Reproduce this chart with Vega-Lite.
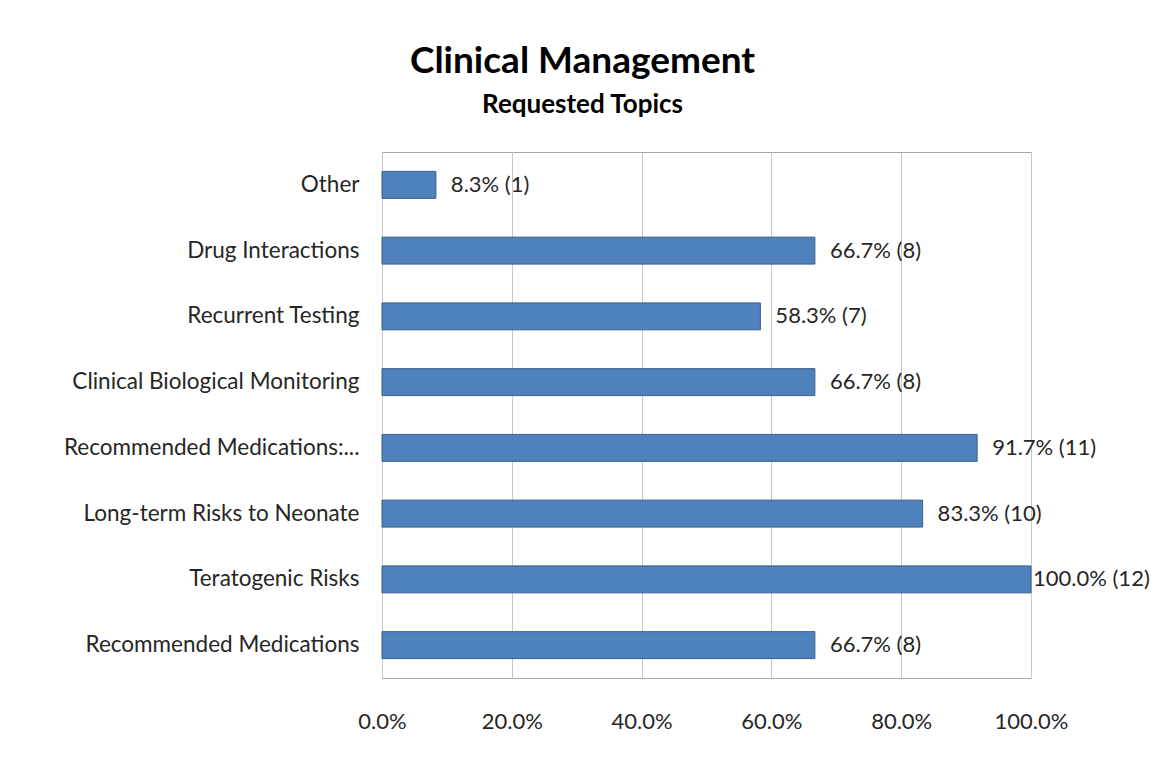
{
  "$schema": "https://vega.github.io/schema/vega-lite/v6.json",
  "autosize": {"type": "none"},
  "padding": {"left": 382, "top": 152, "right": 120, "bottom": 91},
  "width": 649,
  "height": 526,
  "background": "#ffffff",
  "title": {
    "text": "Clinical Management",
    "subtitle": "Requested Topics",
    "anchor": "middle",
    "dx": -124,
    "offset": 33,
    "font": "Lato",
    "fontSize": 37,
    "fontWeight": "bold",
    "color": "#000000",
    "subtitleFont": "Lato",
    "subtitleFontSize": 26,
    "subtitleFontWeight": "bold",
    "subtitleColor": "#000000",
    "subtitlePadding": 11
  },
  "config": {
    "view": {"stroke": "#a6a6a6", "strokeWidth": 1},
    "font": "Lato"
  },
  "data": {
    "values": [
      {"topic": "Other", "pct": 0.083, "n": 1, "label": "8.3% (1)"},
      {"topic": "Drug Interactions", "pct": 0.667, "n": 8, "label": "66.7% (8)"},
      {"topic": "Recurrent Testing", "pct": 0.583, "n": 7, "label": "58.3% (7)"},
      {"topic": "Clinical Biological Monitoring", "pct": 0.667, "n": 8, "label": "66.7% (8)"},
      {"topic": "Recommended Medications:...", "pct": 0.917, "n": 11, "label": "91.7% (11)"},
      {"topic": "Long-term Risks to Neonate", "pct": 0.833, "n": 10, "label": "83.3% (10)"},
      {"topic": "Teratogenic Risks", "pct": 1.0, "n": 12, "label": "100.0% (12)"},
      {"topic": "Recommended Medications", "pct": 0.667, "n": 8, "label": "66.7% (8)"}
    ]
  },
  "encoding": {
    "y": {
      "field": "topic",
      "type": "nominal",
      "sort": ["Other", "Drug Interactions", "Recurrent Testing", "Clinical Biological Monitoring", "Recommended Medications:...", "Long-term Risks to Neonate", "Teratogenic Risks", "Recommended Medications"],
      "scale": {"paddingInner": 0.59, "paddingOuter": 0.295},
      "axis": {
        "title": null,
        "ticks": false,
        "domain": false,
        "labelPadding": 23,
        "labelFont": "Lato",
        "labelFontSize": 22.5,
        "labelColor": "#262626",
        "labelLimit": 400
      }
    },
    "x": {
      "field": "pct",
      "type": "quantitative",
      "scale": {"domain": [0, 1], "nice": false},
      "axis": {
        "title": null,
        "format": ".1%",
        "values": [0, 0.2, 0.4, 0.6, 0.8, 1.0],
        "ticks": false,
        "domain": false,
        "grid": true,
        "gridColor": "#c8c8c8",
        "gridWidth": 1,
        "labelPadding": 33,
        "labelFont": "Lato",
        "labelFontSize": 22,
        "labelColor": "#262626",
        "labelFlush": false
      }
    }
  },
  "layer": [
    {
      "mark": {"type": "bar", "fill": "#4f81bd", "stroke": "#385d8a", "strokeWidth": 1}
    },
    {
      "transform": [{"filter": "datum.pct < 1"}],
      "mark": {"type": "text", "align": "left", "baseline": "middle", "dx": 15, "font": "Lato", "fontSize": 22, "color": "#262626"},
      "encoding": {"text": {"field": "label"}}
    },
    {
      "transform": [{"filter": "datum.pct >= 1"}],
      "mark": {"type": "text", "align": "left", "baseline": "middle", "dx": 2, "font": "Lato", "fontSize": 22, "color": "#262626"},
      "encoding": {"text": {"field": "label"}}
    }
  ]
}
